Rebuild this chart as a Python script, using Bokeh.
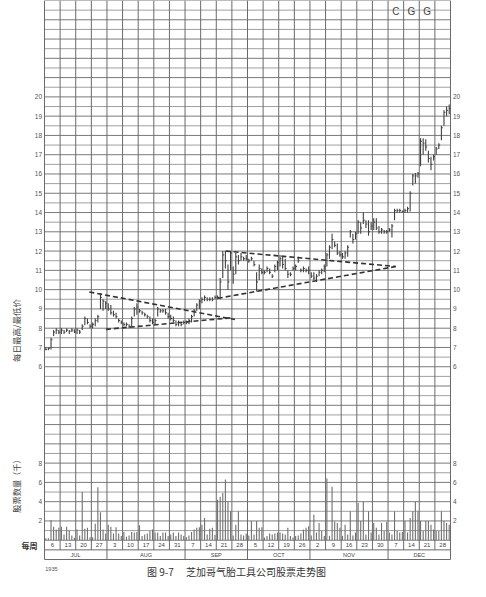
import math
from bokeh.plotting import figure
from bokeh.models import Range1d
from bokeh.core.properties import value
from bokeh.embed import file_html
from bokeh.resources import INLINE

# ---------------- data ----------------
week_labels = ["6", "13", "20", "27", "3", "10", "17", "24", "31", "7", "14", "21", "28",
               "5", "12", "19", "26", "2", "9", "16", "23", "30", "7", "14", "21", "28"]
months = ["JUL", "AUG", "SEP", "OCT", "NOV", "DEC"]
month_weeks = [4, 5, 4, 4, 5, 4]
year_label = "1935"
price_ticks = list(range(6, 21))
volume_ticks = [2, 4, 6, 8]
days_per_week = 6

highs = [7.0, 7.0, 7.5, 7.9, 8.0, 7.9,
         8.0, 7.9, 8.0, 7.9, 8.0, 7.95,
         8.0, 7.9, 8.2, 8.6, 8.5, 8.2,
         8.3, 8.5, 8.7, 9.8, 9.5, 9.4,
         9.3, 9.2, 8.9, 8.8, 8.5, 8.4,
         8.3, 8.3, 8.2, 8.6, 9.1, 9.3,
         9.0, 8.9, 8.8, 8.7, 8.6, 8.5,
         8.5, 9.1, 9.0, 9.0, 9.0, 8.8,
         8.7, 8.6, 8.4, 8.4, 8.3, 8.4,
         8.4, 8.5, 8.7, 9.0, 9.3, 9.5,
         9.6, 9.7, 9.6, 9.6, 9.6, 9.7,
         9.7, 10.6, 12.0, 12.0, 11.3, 12.0,
         11.2, 11.9, 11.8, 11.9, 11.7, 11.8,
         11.6, 11.7, 11.5, 10.9, 11.3, 11.1,
         11.0, 11.2, 11.1, 10.8, 11.3, 11.5,
         11.8, 11.7, 11.6, 11.0, 10.9, 11.2,
         11.3, 11.7, 11.1, 11.2, 11.1, 11.2,
         10.9, 10.9, 10.8, 11.0, 11.1, 11.3,
         11.9, 12.3, 12.9, 12.5, 12.4, 12.0,
         11.9, 12.0, 12.3, 13.1, 12.9, 13.0,
         13.6, 13.5, 14.0, 13.6, 13.6, 13.5,
         13.7, 13.7, 13.3, 13.2, 13.1, 13.1,
         13.2, 13.4, 14.2, 14.2, 14.2, 14.1,
         14.2, 14.3, 15.1, 16.0, 16.05, 16.1,
         17.85, 17.85, 17.8, 17.2, 16.9, 17.0,
         17.4, 17.6, 18.5, 19.3, 19.5, 19.6]

lows = [6.85, 6.85, 6.9, 7.6, 7.7, 7.7,
        7.7, 7.7, 7.8, 7.7, 7.8, 7.75,
        7.7, 7.7, 7.9, 8.15, 8.2, 8.0,
        8.0, 8.1, 8.3, 9.0, 8.9, 9.0,
        8.9, 8.7, 8.6, 8.5, 8.3, 8.2,
        8.1, 8.1, 8.0, 8.1, 8.6, 8.7,
        8.8, 8.7, 8.6, 8.5, 8.3, 8.2,
        8.2, 8.6, 8.8, 8.8, 8.7, 8.5,
        8.4, 8.3, 8.1, 8.1, 8.1, 8.2,
        8.2, 8.2, 8.3, 8.6, 8.9, 9.0,
        9.3, 9.4, 9.4, 9.4, 9.4, 9.5,
        9.5, 9.5, 10.6, 11.1, 10.0, 11.0,
        10.3, 10.8, 11.3, 11.5, 11.5, 11.5,
        11.4, 11.5, 11.2, 9.9, 10.5, 10.8,
        10.8, 10.9, 10.8, 10.6, 10.9, 11.0,
        11.2, 11.1, 11.0, 10.6, 10.7, 11.0,
        11.0, 11.4, 10.9, 10.9, 10.9, 10.8,
        10.6, 10.5, 10.4, 10.7, 10.8, 10.9,
        11.2, 11.6, 12.1, 12.2, 11.8, 11.7,
        11.6, 11.6, 11.7, 12.7, 12.4, 12.6,
        12.9, 12.9, 13.4, 13.2, 12.8, 13.1,
        13.1, 13.1, 12.9, 12.9, 12.9, 12.9,
        13.0, 12.7, 13.6, 14.0, 14.0, 14.0,
        14.0, 14.0, 14.05, 15.4, 15.5, 15.8,
        16.4, 17.0, 17.2, 16.6, 16.2, 16.7,
        17.0, 17.3, 17.75, 18.5, 19.0, 19.1]

closes = [6.9, 6.95, 7.4, 7.8, 7.9, 7.8,
          7.9, 7.8, 7.9, 7.85, 7.9, 7.8,
          7.9, 7.8, 8.1, 8.5, 8.3, 8.1,
          8.2, 8.4, 8.6, 9.6, 9.4, 9.3,
          9.0, 8.8, 8.7, 8.6, 8.4, 8.3,
          8.2, 8.2, 8.1, 8.5, 9.0, 9.1,
          8.9, 8.8, 8.7, 8.6, 8.4, 8.3,
          8.4, 9.0, 8.9, 8.9, 8.8, 8.6,
          8.5, 8.4, 8.2, 8.3, 8.2, 8.3,
          8.3, 8.4, 8.6, 8.9, 9.2, 9.4,
          9.5, 9.6, 9.5, 9.5, 9.5, 9.6,
          9.6, 10.4, 11.8, 11.5, 10.4, 11.9,
          10.8, 11.7, 11.5, 11.7, 11.6, 11.6,
          11.5, 11.6, 11.3, 10.4, 11.1, 10.9,
          10.9, 11.1, 10.9, 10.7, 11.2, 11.4,
          11.6, 11.3, 11.1, 10.8, 10.8, 11.1,
          11.2, 11.5, 11.0, 11.1, 11.0, 11.0,
          10.7, 10.6, 10.7, 10.9, 11.0, 11.2,
          11.8, 12.2, 12.6, 12.3, 11.9, 11.8,
          11.7, 11.9, 12.2, 13.0, 12.6, 12.9,
          13.5, 13.2, 13.6, 13.4, 13.0, 13.3,
          13.5, 13.2, 13.0, 13.1, 13.0, 13.0,
          13.1, 13.3, 14.1, 14.1, 14.1, 14.05,
          14.1, 14.2, 15.0, 15.9, 15.9, 16.0,
          17.7, 17.6, 17.4, 16.8, 16.5, 16.9,
          17.3, 17.5, 18.4, 19.2, 19.3, 19.4]

volumes = [0.2, 0.2, 2.1, 1.4, 1.1, 1.3,
           1.4, 0.6, 1.4, 1.0, 0.5, 0.25,
           1.1, 0.5, 5.0, 1.2, 1.3, 0.3,
           0.3, 1.7, 5.5, 2.9, 1.1, 0.7,
           1.6, 1.4, 0.7, 1.35, 0.7, 0.45,
           0.85, 0.35, 0.5, 0.85, 0.8, 0.85,
           1.55, 0.45, 0.6, 0.7, 0.95, 1.1,
           0.8, 0.8, 0.45, 0.8, 0.8, 0.45,
           0.6, 0.8, 0.45, 0.8, 0.6, 0.45,
           0.3, 0.5, 0.85, 1.1, 1.3, 1.35,
           1.6, 2.3, 0.6, 1.2, 1.3, 0.55,
           4.2, 4.5, 4.9, 6.3, 4.0, 3.0,
           0.5, 1.6, 3.0, 0.6, 0.5, 0.7,
           0.5, 2.0, 0.6, 2.0, 1.3, 1.35,
           0.27, 0.45, 0.7, 0.6, 0.7, 0.8,
           0.8, 0.7, 0.6, 1.3, 0.45, 0.27,
           0.45, 0.5, 0.7, 1.1, 1.3, 1.45,
           0.5, 2.65, 0.8, 1.8, 0.95, 0.45,
           6.4, 0.45, 5.55, 1.95, 1.8, 1.3,
           0.45, 1.6, 0.6, 3.0, 0.5, 0.8,
           3.85, 2.0, 4.0, 0.6, 3.0, 0.8,
           1.8, 1.3, 0.6, 1.8, 0.95, 1.9,
           0.8, 0.6, 3.0, 0.95, 0.8, 0.85,
           2.0, 0.8, 2.3, 3.0, 4.0, 3.0,
           2.0, 0.95, 2.0, 2.0, 1.6, 1.1,
           0.95, 0.95, 3.0, 2.0, 1.8, 1.6]

# trend lines (week position, price)
trend_x = [[2.87, 12.2], [3.93, 12.1], [11.6, 22.5], [11.1, 22.5]]
trend_y = [[9.88, 8.45], [7.94, 8.55], [12.0, 11.2], [9.55, 11.2]]

marks = ["C", "G", "G"]
mark_weeks = [22, 23, 24]

price_title = "每日最高/最低价"
volume_title = "股票数量（千）"
week_title = "每周"
caption = "图\u00a09-7\u3000\u00a0芝加哥气胎工具公司股票走势图"

# ---------------- layout ----------------
W, H = 468, 578
n_weeks = len(week_labels)
PXW = 406.0 / n_weeks          # px per week
PXH = 559.0 / 29.0             # px per price unit
P_TOP = 25.0
VOL_BASE = -3.0                # volume 0 sits here
VOL_SCALE = 0.5                # one thousand shares = half a price unit
WEEK_ROW = -3.5
MONTH_ROW = -4.0

p = figure(width=W, height=H, output_backend="svg", toolbar_location=None,
           x_range=Range1d(-44.0 / PXW, n_weeks + (W - 44 - 406) / PXW),
           y_range=Range1d(P_TOP - H / PXH, P_TOP),
           min_border=0, x_axis_location=None, y_axis_location=None)
p.grid.visible = False
p.outline_line_color = None
p.background_fill_color = "white"
p.border_fill_color = "white"

# horizontal grid
hy_int = [v * 0.5 for v in range(int(VOL_BASE * 2), int(P_TOP * 2) + 1) if v % 2 == 0]
hy_half = [v * 0.5 for v in range(int(VOL_BASE * 2), int(P_TOP * 2) + 1) if v % 2 != 0]
p.segment(x0=[0] * len(hy_half), x1=[n_weeks] * len(hy_half), y0=hy_half, y1=hy_half,
          line_color="#a0a0a0", line_width=1)
p.segment(x0=[0] * len(hy_int), x1=[n_weeks] * len(hy_int), y0=hy_int, y1=hy_int,
          line_color="#7a7a7a", line_width=1)
# week rows borders
p.segment(x0=[0, 0], x1=[n_weeks, n_weeks], y0=[WEEK_ROW, MONTH_ROW], y1=[WEEK_ROW, MONTH_ROW],
          line_color="#6a6a6a", line_width=1)

# vertical grid
month_edges = [0]
for m in month_weeks:
    month_edges.append(month_edges[-1] + m)
vx = list(range(n_weeks + 1))
vy0 = [MONTH_ROW if k in month_edges else WEEK_ROW for k in vx]
p.segment(x0=vx, x1=vx, y0=vy0, y1=[P_TOP] * len(vx), line_color="#6a6a6a", line_width=1)

# day positions
day_x = [i / days_per_week + 0.5 / days_per_week for i in range(len(highs))]

# volume bars
vol_top = [VOL_BASE + v * VOL_SCALE for v in volumes]
p.segment(x0=day_x, x1=day_x, y0=[VOL_BASE] * len(day_x), y1=vol_top,
          line_color="#707070", line_width=1.1)

# price bars
p.segment(x0=day_x, x1=day_x, y0=lows, y1=highs, line_color="#404040", line_width=1.1)
tick_len = 1.4 / PXW
p.segment(x0=day_x, x1=[x + tick_len for x in day_x], y0=closes, y1=closes,
          line_color="#404040", line_width=1)

# trend lines
p.multi_line(xs=trend_x, ys=trend_y, line_color="#333333", line_width=1.6, line_dash="5 3")

num_font = value("Liberation Sans")
lab_col = "#555555"
left_x = -2.5 / PXW
right_x = n_weeks + 2.5 / PXW
# price tick labels
p.text(x=[left_x] * len(price_ticks), y=price_ticks, text=[str(t) for t in price_ticks],
       text_font=num_font, text_font_size="6.5px", text_color=lab_col,
       text_align="right", text_baseline="middle")
p.text(x=[right_x] * len(price_ticks), y=price_ticks, text=[str(t) for t in price_ticks],
       text_font=num_font, text_font_size="6.5px", text_color=lab_col,
       text_align="left", text_baseline="middle")
# volume tick labels
vt_y = [VOL_BASE + v * VOL_SCALE for v in volume_ticks]
p.text(x=[left_x] * len(volume_ticks), y=vt_y, text=[str(t) for t in volume_ticks],
       text_font=num_font, text_font_size="6.5px", text_color=lab_col,
       text_align="right", text_baseline="middle")
p.text(x=[right_x] * len(volume_ticks), y=vt_y, text=[str(t) for t in volume_ticks],
       text_font=num_font, text_font_size="6.5px", text_color=lab_col,
       text_align="left", text_baseline="middle")

# week labels
p.text(x=[k + 0.5 for k in range(n_weeks)], y=[(VOL_BASE + WEEK_ROW) / 2] * n_weeks,
       text=week_labels, text_font=num_font, text_font_size="6px", text_color="#444444",
       text_align="center", text_baseline="middle")
# month labels
mx = [(month_edges[i] + month_edges[i + 1]) / 2 for i in range(len(months))]
p.text(x=mx, y=[(WEEK_ROW + MONTH_ROW) / 2] * len(months), text=months,
       text_font=num_font, text_font_size="5.5px", text_color="#444444",
       text_align="center", text_baseline="middle")
# year
p.text(x=[0.05], y=[MONTH_ROW - 9.5 / PXH], text=[year_label], text_font=num_font,
       text_font_size="5.5px", text_color="#555555", text_align="left", text_baseline="middle")

# C G G marks
p.text(x=[w + 0.5 for w in mark_weeks], y=[P_TOP - 11 / PXH] * len(marks), text=marks,
       text_font=num_font, text_font_size="10px", text_color="#444444",
       text_align="center", text_baseline="middle")

cjk = value("Noto Sans CJK SC")
title_x = (15 - 44) / PXW
p.text(x=[title_x], y=[P_TOP - 330 / PXH], text=[price_title], angle=math.pi / 2,
       text_font=cjk, text_font_size="8.5px", text_color="#444444",
       text_align="center", text_baseline="middle")
p.text(x=[title_x], y=[P_TOP - 483.5 / PXH], text=[volume_title], angle=math.pi / 2,
       text_font=cjk, text_font_size="8.2px", text_color="#444444",
       text_align="center", text_baseline="middle")
p.text(x=[(37 - 44) / PXW], y=[(VOL_BASE + WEEK_ROW) / 2], text=[week_title],
       text_font=cjk, text_font_size="8px", text_font_style="bold", text_color="#333333",
       text_align="right", text_baseline="middle")

# caption
p.text(x=[(244 - 8 - 44) / PXW], y=[P_TOP - 571 / PXH], text=[caption],
       text_font=cjk, text_font_size="10px", text_color="#333333",
       text_align="center", text_baseline="middle")

open("out.html", "w").write(file_html(p, INLINE))
